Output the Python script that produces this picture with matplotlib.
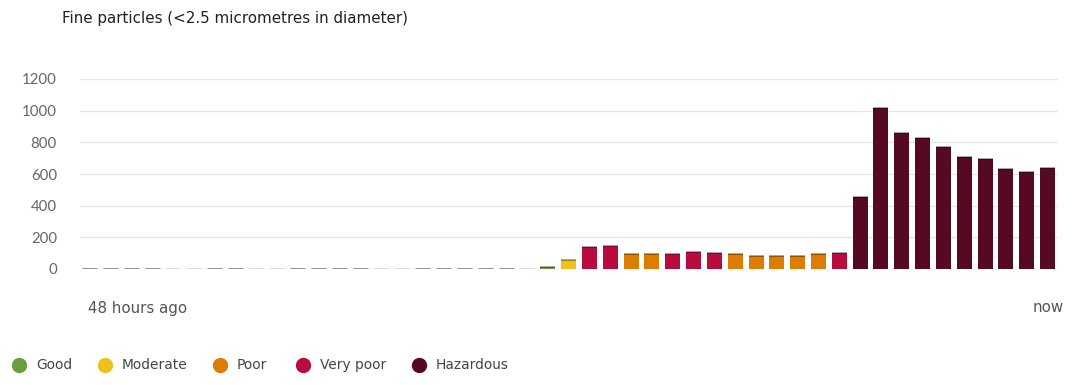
import matplotlib
matplotlib.use("Agg")
import matplotlib.pyplot as plt
from matplotlib.lines import Line2D

plt.rcParams['font.family'] = ['DejaVu Sans']

# ---- data ----
values = [0] * 22 + [10, 57, 140, 144, 93, 92, 97, 108, 102, 92, 85, 80, 81, 92, 104,
                     455, 1016, 861, 825, 768, 709, 692, 632, 613, 641]
status = (['nd'] * 4 + ['nl'] * 2 + ['nd'] * 2 + ['nl'] * 2 + ['nd'] * 4 + ['nl'] * 2 +
          ['nd'] * 5 + ['nl'] * 1 +
          ['Good', 'Moderate', 'Very poor', 'Very poor', 'Poor', 'Poor', 'Very poor', 'Very poor',
           'Very poor', 'Poor', 'Poor', 'Poor', 'Poor', 'Poor', 'Very poor'] + ['Hazardous'] * 10)
yticks = [0, 200, 400, 600, 800, 1000, 1200]
legend_labels = ['Good', 'Moderate', 'Poor', 'Very poor', 'Hazardous']
title = 'Fine particles (<2.5 micrometres in diameter)'

colors = {'Good': '#6a9e3f', 'Moderate': '#eec21a', 'Poor': '#dc7c00',
          'Very poor': '#b70c3d', 'Hazardous': '#560a21'}
stroke = {'nd': '#8a8a8a', 'nl': '#dadada'}

fig = plt.figure(figsize=(10.77, 3.85), dpi=100)
W, H = 1077, 385
renderer = fig.canvas.get_renderer()


def fit_size(text, target_px, family, base=10.0):
    t = fig.text(0, 0, text, fontsize=base, family=family)
    w = t.get_window_extent(renderer).width
    t.remove()
    return base * target_px / w


ax = fig.add_axes([80 / W, 1 - 269 / H, (1058 - 80) / W, (269 - 79) / H])

x = list(range(len(values)))
bw = 0.72
for xi, v, s in zip(x, values, status):
    if s in colors:
        ax.bar(xi, v, width=bw, color=colors[s], zorder=3, linewidth=0)
        ax.hlines(v, xi - bw / 2, xi + bw / 2, color='#00000066', lw=1.2, zorder=4)
    else:
        ax.hlines(v, xi - bw / 2, xi + bw / 2, color=stroke[s], lw=2.0, zorder=4)

tick_fs = fit_size('1200', 35, ['Lato'])
ax.set_xlim(-0.46, len(values) - 0.5)
ax.set_ylim(0, 1200)
ax.set_yticks(yticks)
ax.set_yticklabels([str(t) for t in yticks], family=['Lato'])
ax.tick_params(axis='y', length=0, pad=23 * 72 / 100, labelsize=tick_fs, labelcolor='#666666')
ax.set_xticks([])
ax.grid(axis='y', color='#e6e6e6', lw=1, zorder=0)
for sp in ax.spines.values():
    sp.set_visible(False)

title_fs = fit_size(title, 346, ['DejaVu Sans'])
fig.text(62 / W, 1 - 19 / H, title, fontsize=title_fs, color='#222222', va='center', ha='left')
lab_fs = fit_size('48 hours ago', 99, ['DejaVu Sans'])
fig.text(88 / W, 1 - 308 / H, '48 hours ago', fontsize=lab_fs, color='#555555', va='center', ha='left')
fig.text(1064 / W, 1 - 308 / H, 'now', fontsize=lab_fs, color='#555555', va='center', ha='right')

leg_fs = fit_size('Hazardous', 73, ['DejaVu Sans'])
marker_x = [19, 105, 220, 303, 419]
for mx, lab in zip(marker_x, legend_labels):
    fig.add_artist(Line2D([mx / W], [1 - 365 / H], marker='o', markersize=10,
                          color=colors[lab], linestyle='none', transform=fig.transFigure))
    fig.text((mx + 17) / W, 1 - 365 / H, lab, fontsize=leg_fs, color='#444444', va='center', ha='left')

fig.savefig('out.png', dpi=100)
